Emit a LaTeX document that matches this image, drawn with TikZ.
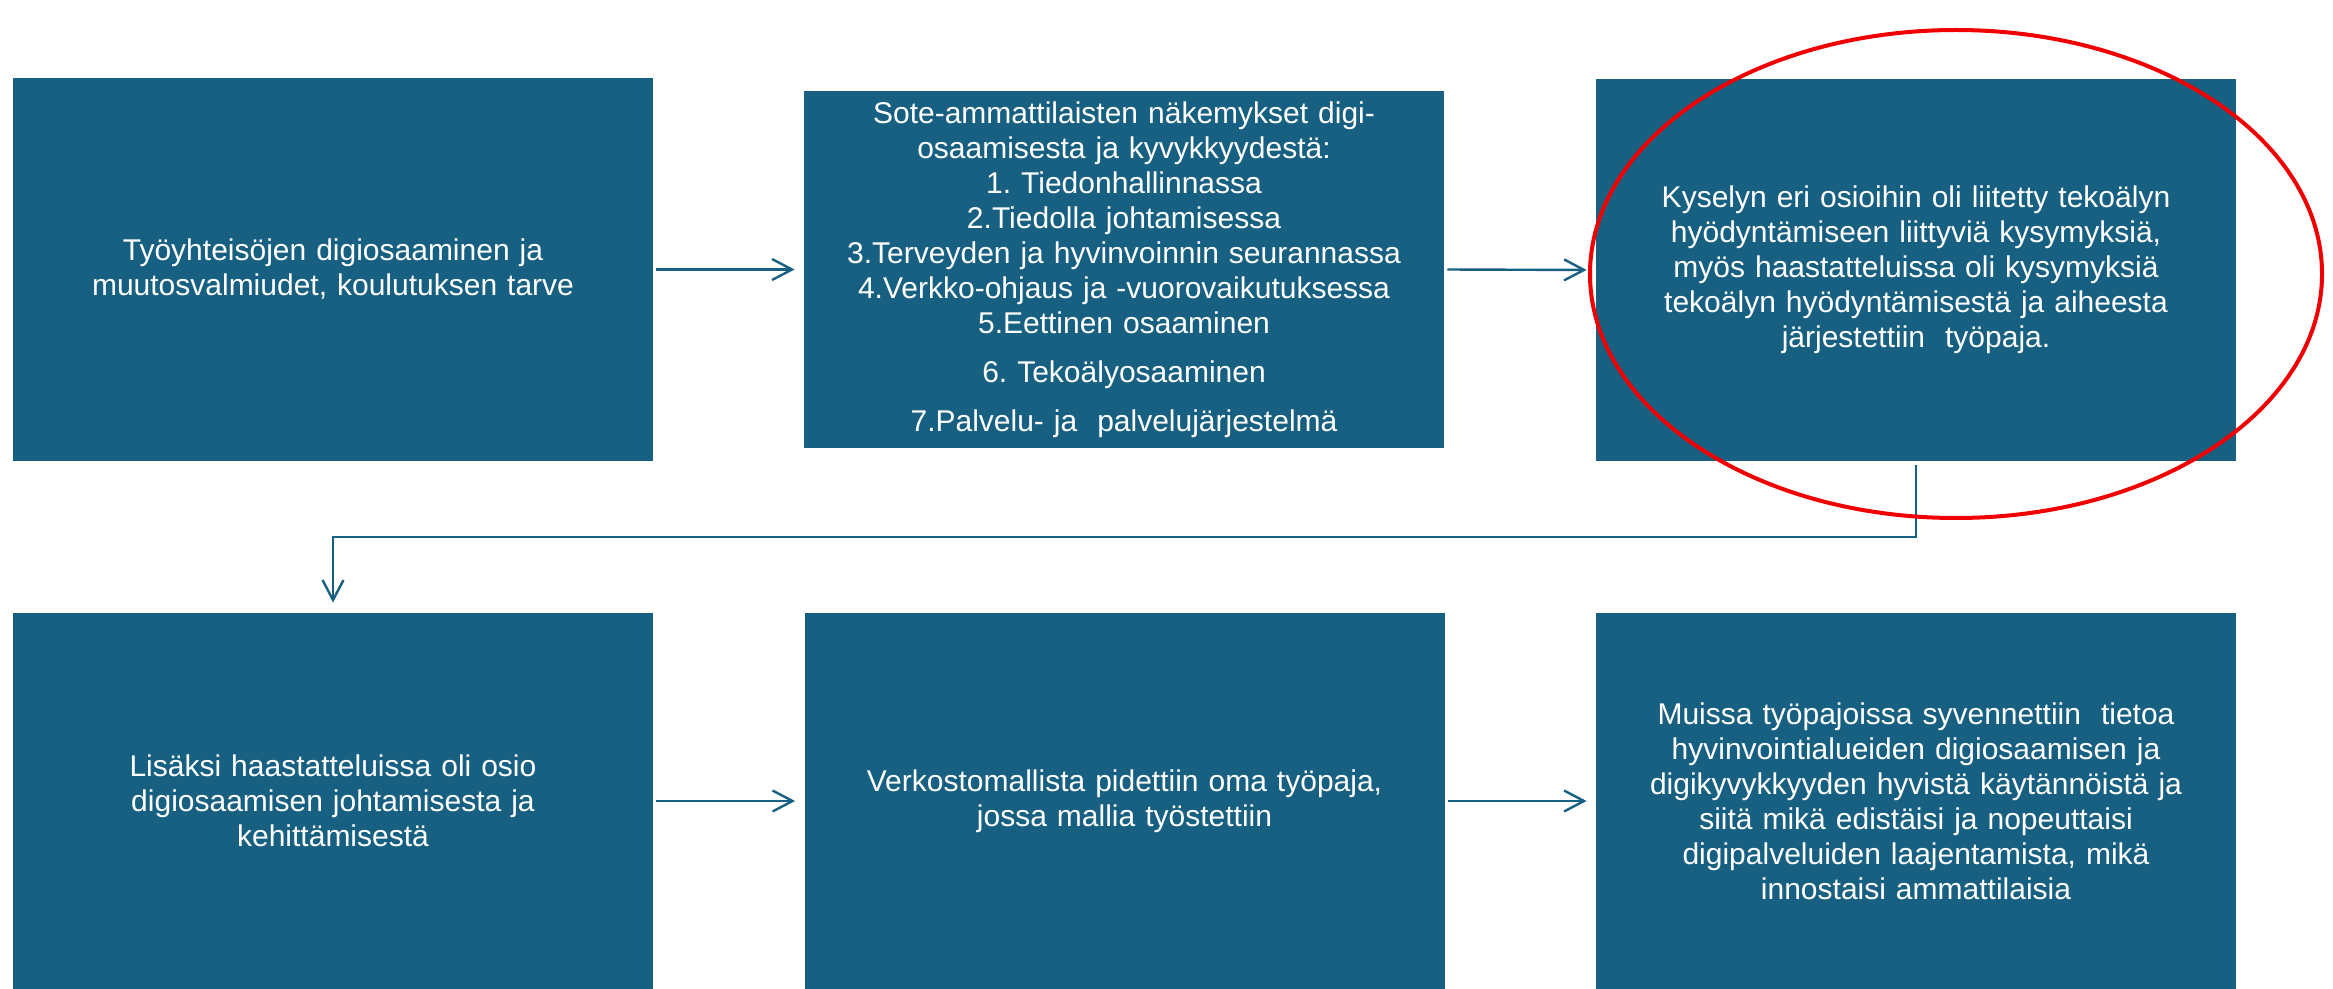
\documentclass[tikz,border=0pt]{standalone}
\usepackage{fontspec}
\setmainfont{Liberation Sans}
\usetikzlibrary{arrows.meta}
\definecolor{boxblue}{RGB}{23,96,130}
\definecolor{linkblue}{RGB}{23,96,130}
\definecolor{markred}{RGB}{240,0,0}
\begin{document}
\frenchspacing
\begin{tikzpicture}[x=0.5pt,y=-0.5pt,
  box/.style={fill=boxblue, draw=none, inner sep=0pt, minimum width=320pt,
    text=white, align=center, text width=310pt,
    font=\fontsize{15}{17.5}\selectfont\frenchspacing},
  link/.style={draw=linkblue, line width=1.2pt,
    -{Straight Barb[length=10pt,width=10.5pt,line width=1.2pt]},
    shorten <=1.5pt, shorten >=4.5pt}]
\useasboundingbox (0,0) rectangle (2333,989);

% top row
\node[box, minimum height=191.5pt] (b1) at (333,269.5)
  {Työyhteisöjen digiosaaminen ja\\muutosvalmiudet, koulutuksen tarve};
\node[box, minimum height=178.5pt] (b2) at (1124,269.5)
  {Sote-ammattilaisten näkemykset digi-\\osaamisesta ja kyvykkyydestä:\\1. Tiedonhallinnassa\\2.Tiedolla johtamisessa\\3.Terveyden ja hyvinvoinnin seurannassa\\4.Verkko-ohjaus ja -vuorovaikutuksessa\\5.Eettinen osaaminen\\[7pt]6. Tekoälyosaaminen\\[7pt]7.Palvelu- ja\ \ palvelujärjestelmä};
\node[box, minimum height=191pt] (b3) at (1916,270)
  {Kyselyn eri osioihin oli liitetty tekoälyn\\hyödyntämiseen liittyviä kysymyksiä,\\myös haastatteluissa oli kysymyksiä\\tekoälyn hyödyntämisestä ja aiheesta\\järjestettiin\ \ työpaja.};

% bottom row
\node[box, minimum height=188pt] (b4) at (333,801)
  {Lisäksi haastatteluissa oli osio\\digiosaamisen johtamisesta ja\\kehittämisestä};
\node[box, minimum height=188pt] (b5) at (1124.5,801)
  {Verkostomallista pidettiin oma työpaja,\\jossa mallia työstettiin};
\node[box, minimum height=188pt] (b6) at (1916,801)
  {Muissa työpajoissa syvennettiin\ \ tietoa\\hyvinvointialueiden digiosaamisen ja\\digikyvykkyyden hyvistä käytännöistä ja\\siitä mikä edistäisi ja nopeuttaisi\\digipalveluiden laajentamista, mikä\\innostaisi ammattilaisia};

% connectors
\draw[link] (b1.east) -- (b2.west);
\draw[link] (b2.east) -- (b3.west);
\coordinate (mid) at (1916,537);
\draw[link, shorten <=2pt, shorten >=5pt] (b3.south) -- (b3.south |- mid) -| (b4.north);
\draw[link] (b4.east) -- (b5.west);
\draw[link] (b5.east) -- (b6.west);

% red highlight ellipse
\draw[markred, line width=2pt] (1956,274) ellipse [x radius=183pt, y radius=122pt];
\end{tikzpicture}
\end{document}
